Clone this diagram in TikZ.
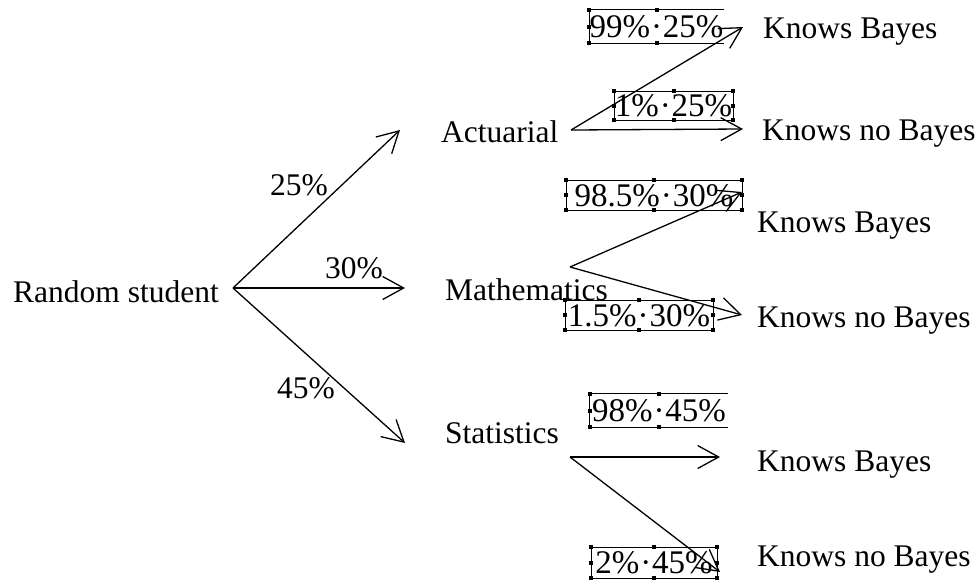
\documentclass[tikz,border=0pt]{standalone}
\usepackage{fontspec}
\setmainfont{Liberation Serif}
\usetikzlibrary{arrows.meta}
\tikzset{
  txt/.style={font=\fontsize{31.5}{38}\selectfont, inner sep=0pt, anchor=base west},
  arr/.style={line width=1.3pt, -{Straight Barb[length=21pt,width=23pt,line width=1.3pt]}},
  prob/.style={font=\fontsize{33}{38}\selectfont, inner sep=0pt, text height=23pt, text depth=1pt, line width=0.6pt},
  handle/.style={fill=black, draw=none, minimum size=4pt, inner sep=0pt}
}
\newcommand\pdot{\kern1pt·\kern1pt}
\begin{document}
\begin{tikzpicture}[x=1pt,y=-1pt]
\useasboundingbox (0,0) rectangle (979,579);
% main nodes
\node[txt] (root) at (13,302) {Random student};
\node[txt] (act) at (441,142) {Actuarial};
\node[txt] (mat) at (445,300) {Mathematics};
\node[txt] (sta) at (445,443) {Statistics};
% leaves
\node[txt] (kb1) at (763,38) {Knows Bayes};
\node[txt] (kn1) at (762,140) {Knows no Bayes};
\node[txt] (kb2) at (757,232) {Knows Bayes};
\node[txt] (kn2) at (757,327) {Knows no Bayes};
\node[txt] (kb3) at (757,471) {Knows Bayes};
\node[txt] (kn3) at (757,566) {Knows no Bayes};
% first-level labels
\node[txt] (p1) at (270,195) {25\%};
\node[txt] (p2) at (325,278) {30\%};
\node[txt] (p3) at (277,398) {45\%};
% connector end points
\coordinate (rs) at (233,288);
\coordinate (ai) at (400,130);
\coordinate (mi) at (405,288);
\coordinate (si) at (405,443);
\coordinate (ao) at (571,130);
\coordinate (mo) at (570,267);
\coordinate (so) at (570,457);
\coordinate (e1) at (743,27);
\coordinate (e2) at (743,129);
\coordinate (e3) at (742,192);
\coordinate (e4) at (742,315);
\coordinate (e5) at (720,457);
\coordinate (e6) at (720,572);
% arrows
\draw[arr] (rs) -- (ai);
\draw[arr] (rs) -- (mi);
\draw[arr] (rs) -- (si);
\draw[arr] (ao) -- (e1);
\draw[arr] (ao) -- (e2);
\draw[arr] (mo) -- (e3);
\draw[arr] (mo) -- (e4);
\draw[arr] (so) -- (e5);
\draw[arr] (so) -- (e6);
% probability boxes
\node[prob, minimum width=131pt, minimum height=33pt] (b1) at (656.5,26.5) {99\%\pdot25\%};
\node[prob, draw, minimum width=119pt, minimum height=29pt] (b2) at (673.5,105.5) {1\%\pdot25\%};
\node[prob, draw, minimum width=176pt, minimum height=30pt] (b3) at (654,195) {98.5\%\pdot30\%};
\node[prob, draw, minimum width=148pt, minimum height=30pt] (b4) at (639,315) {1.5\%\pdot30\%};
\node[prob, minimum width=138pt, minimum height=33pt] (b5) at (659,410.5) {98\%\pdot45\%};
\node[prob, draw, minimum width=126pt, minimum height=31pt] (b6) at (654,562.5) {2\%\pdot45\%};
\draw[line width=0.6pt] (b1.north east) -- (b1.north west) -- (b1.south west) -- (b1.south east);
\draw[line width=0.6pt] (b5.north east) -- (b5.north west) -- (b5.south west) -- (b5.south east);
% handles
\foreach \b in {b2,b3,b4,b6}
  \foreach \a in {north west,west,south west,north,south,north east,east,south east}
    \node[handle] at (\b.\a) {};
\foreach \b in {b1,b5}
  \foreach \a in {north west,west,south west,north,south}
    \node[handle] at (\b.\a) {};
\end{tikzpicture}
\end{document}
